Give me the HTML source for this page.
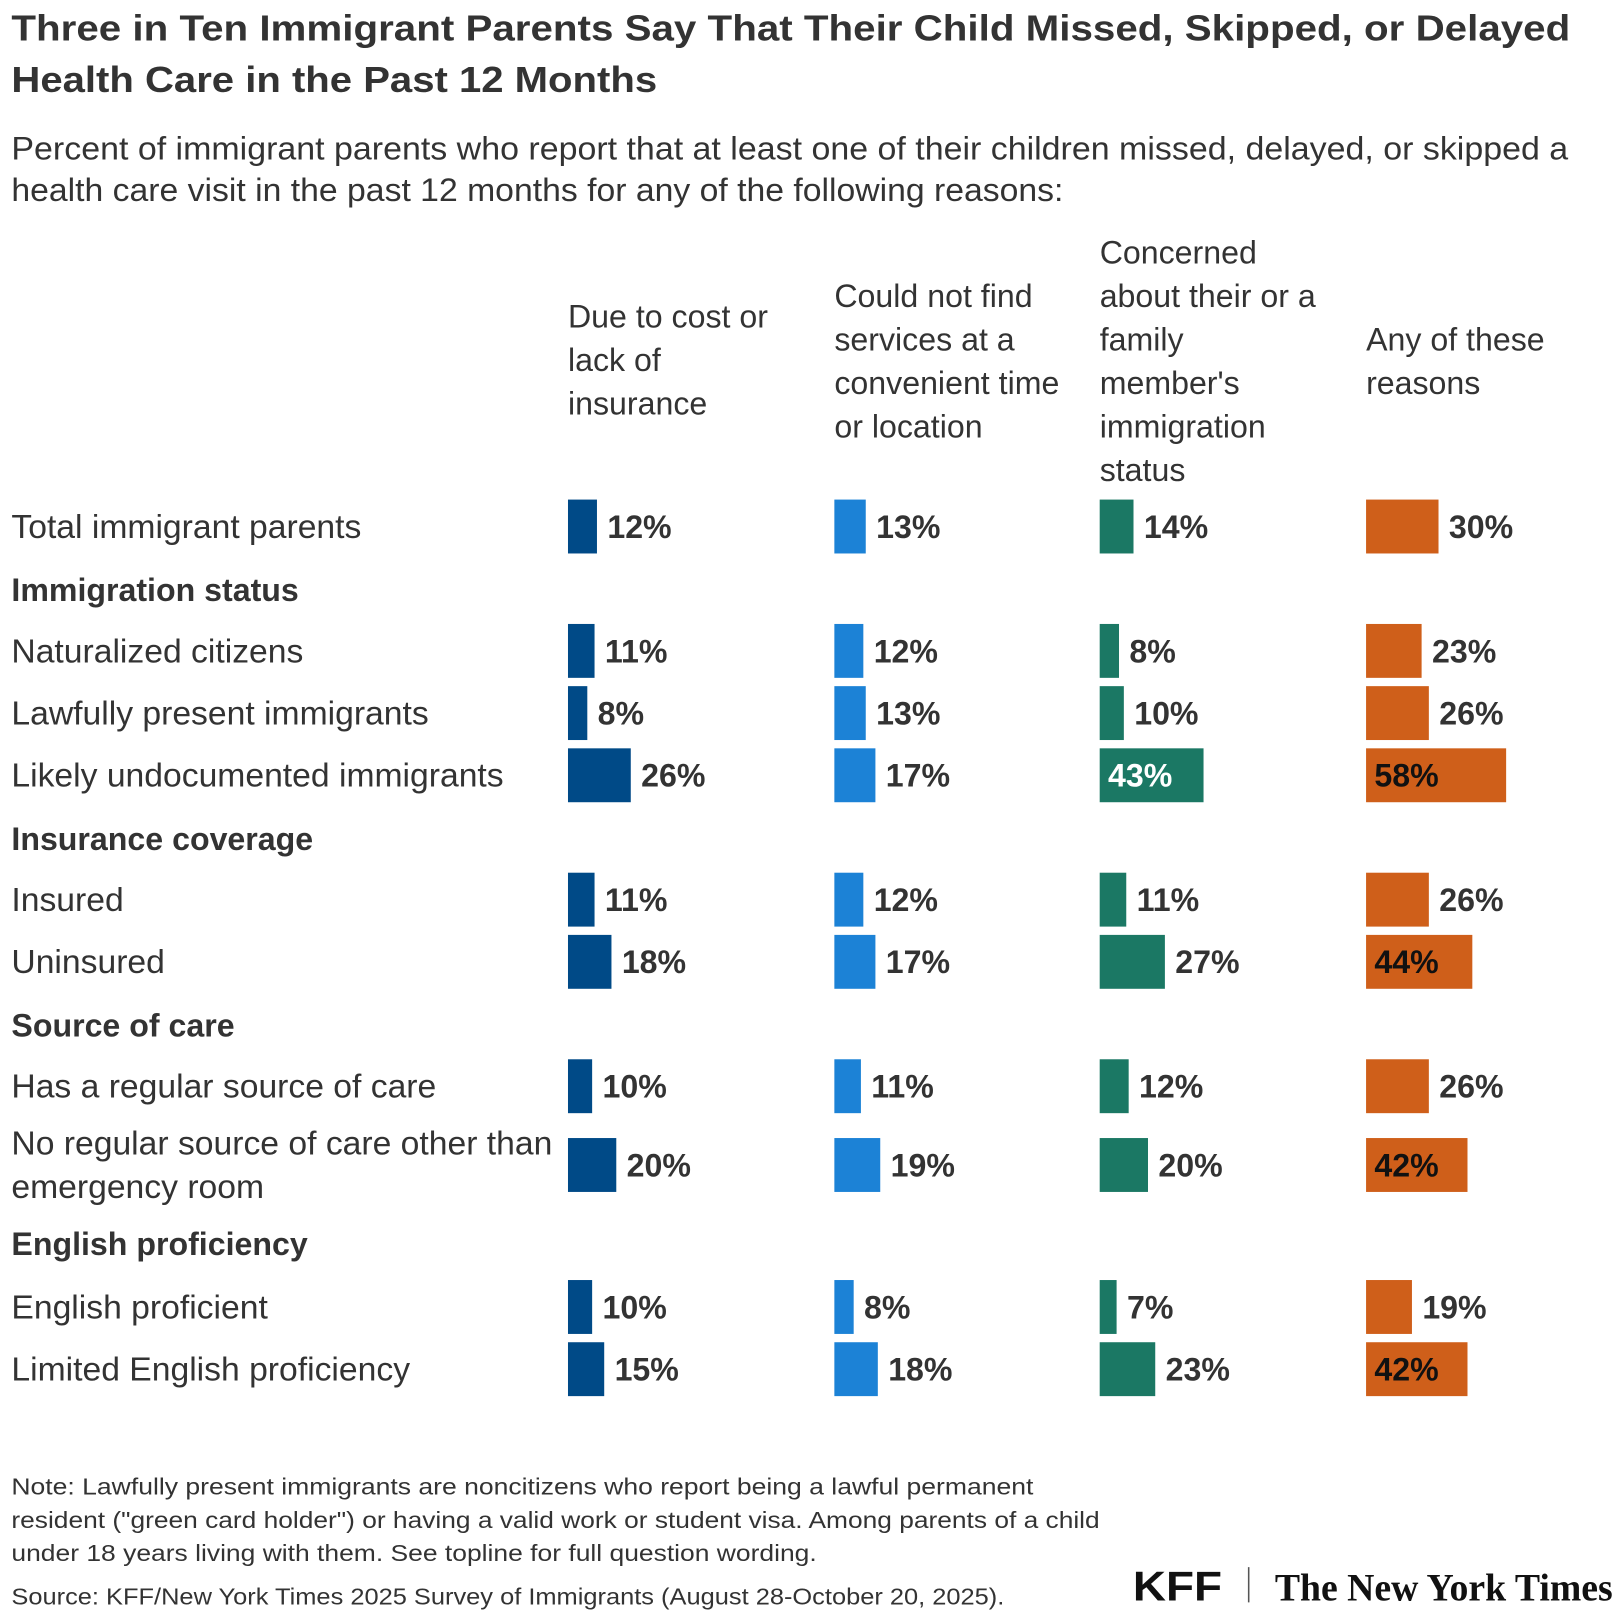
<!DOCTYPE html>
<html><head><meta charset="utf-8"><style>
html,body{margin:0;padding:0;background:#fff;}
svg{display:block;font-family:"Liberation Sans",sans-serif;}
</style></head><body>
<svg id="chart" width="1620" height="1620" viewBox="0 0 1563 1563" xmlns="http://www.w3.org/2000/svg">
<g fill="#333">
<text x="11" y="39" font-size="35" font-weight="bold" textLength="1504" lengthAdjust="spacingAndGlyphs">Three in Ten Immigrant Parents Say That Their Child Missed, Skipped, or Delayed</text>
<text x="11" y="89" font-size="35" font-weight="bold" textLength="623" lengthAdjust="spacingAndGlyphs">Health Care in the Past 12 Months</text>
<text x="11" y="154" font-size="31" textLength="1502" lengthAdjust="spacingAndGlyphs">Percent of immigrant parents who report that at least one of their children missed, delayed, or skipped a</text>
<text x="11" y="194" font-size="31" textLength="1015" lengthAdjust="spacingAndGlyphs">health care visit in the past 12 months for any of the following reasons:</text>
</g>
<g id="headers" fill="#333" font-size="31"></g>
<g id="rows"></g>
<g fill="#333" font-size="22.5">
<text x="11" y="1442" textLength="986" lengthAdjust="spacingAndGlyphs">Note: Lawfully present immigrants are noncitizens who report being a lawful permanent</text>
<text x="11" y="1474" textLength="1050" lengthAdjust="spacingAndGlyphs">resident ("green card holder") or having a valid work or student visa. Among parents of a child</text>
<text x="11" y="1506" textLength="777" lengthAdjust="spacingAndGlyphs">under 18 years living with them. See topline for full question wording.</text>
<text x="11" y="1548" textLength="958" lengthAdjust="spacingAndGlyphs">Source: KFF/New York Times 2025 Survey of Immigrants (August 28-October 20, 2025).</text>
</g>
<text x="1093" y="1544" font-size="40" font-weight="bold" fill="#111" textLength="86" lengthAdjust="spacingAndGlyphs">KFF</text>
<rect x="1204" y="1512" width="1.5" height="34" fill="#555"/>
<text x="1230" y="1544" font-size="38" font-weight="bold" font-family="Liberation Serif,serif" fill="#111" textLength="326" lengthAdjust="spacingAndGlyphs">The New York Times</text>
</svg>
<script>
const columns=["Due to cost or|lack of|insurance","Could not find|services at a|convenient time|or location","Concerned|about their or a|family|member's|immigration|status","Any of these|reasons"];
const rowLabels=["Total immigrant parents","#Immigration status","Naturalized citizens","Lawfully present immigrants","Likely undocumented immigrants","#Insurance coverage","Insured","Uninsured","#Source of care","Has a regular source of care","No regular source of care other than|emergency room","#English proficiency","English proficient","Limited English proficiency"];
const costVals=[12,null,11,8,26,null,11,18,null,10,20,null,10,15];
const convVals=[13,null,12,13,17,null,12,17,null,11,19,null,8,18];
const statusVals=[14,null,8,10,43,null,11,27,null,12,20,null,7,23];
const anyVals=[30,null,23,26,58,null,26,44,null,26,42,null,19,42];
const series=[costVals,convVals,statusVals,anyVals];
const colors=["#004a87","#1c82d6","#1b7864","#cf5f1a"];
const insideText=["#fff","#fff","#fff","#111"];
const rowCenters=[508,569,628,688,748,809,868,928,989,1048,1124,1200,1261,1321];
const colX=[548,805,1061,1318];
const pxPer=2.33;
const NS="http://www.w3.org/2000/svg";
const hg=document.getElementById('headers'),rg=document.getElementById('rows');
function mk(tag,attrs,parent){const e=document.createElementNS(NS,tag);for(const k in attrs)e.setAttribute(k,attrs[k]);parent.appendChild(e);return e;}
columns.forEach((c,i)=>{const lines=c.split('|');const last=i==2?464:(i==1?422:(i==0?400:380));
 lines.forEach((l,j)=>{const t=mk('text',{x:colX[i],y:last-(lines.length-1-j)*42},hg);t.textContent=l;
 
 });});
rowLabels.forEach((lab,r)=>{const cy=rowCenters[r];
 if(lab[0]=='#'){const t=mk('text',{x:11,y:cy+11,'font-size':31,'font-weight':'bold',fill:'#333'},rg);t.textContent=lab.slice(1);
  
  return;}
 const lines=lab.split('|');
 lines.forEach((l,j)=>{const t=mk('text',{x:11,y:cy+11+(j-(lines.length-1)/2)*42,'font-size':32.5,fill:'#333'},rg);t.textContent=l;
  
  });
 series.forEach((s,c)=>{const v=s[r];if(v==null)return;const w=v*pxPer;
  const b=mk('rect',{x:colX[c],y:cy-26,width:w,height:52,fill:colors[c]},rg);
  
  
  const inside=v>=40;
  const t=mk('text',{x:inside?colX[c]+8:colX[c]+w+10,y:cy+11,'font-size':31,'font-weight':'bold',fill:inside?insideText[c]:'#333'},rg);
  t.textContent=v+'%';
  
  });
});
</script>
</body></html>
